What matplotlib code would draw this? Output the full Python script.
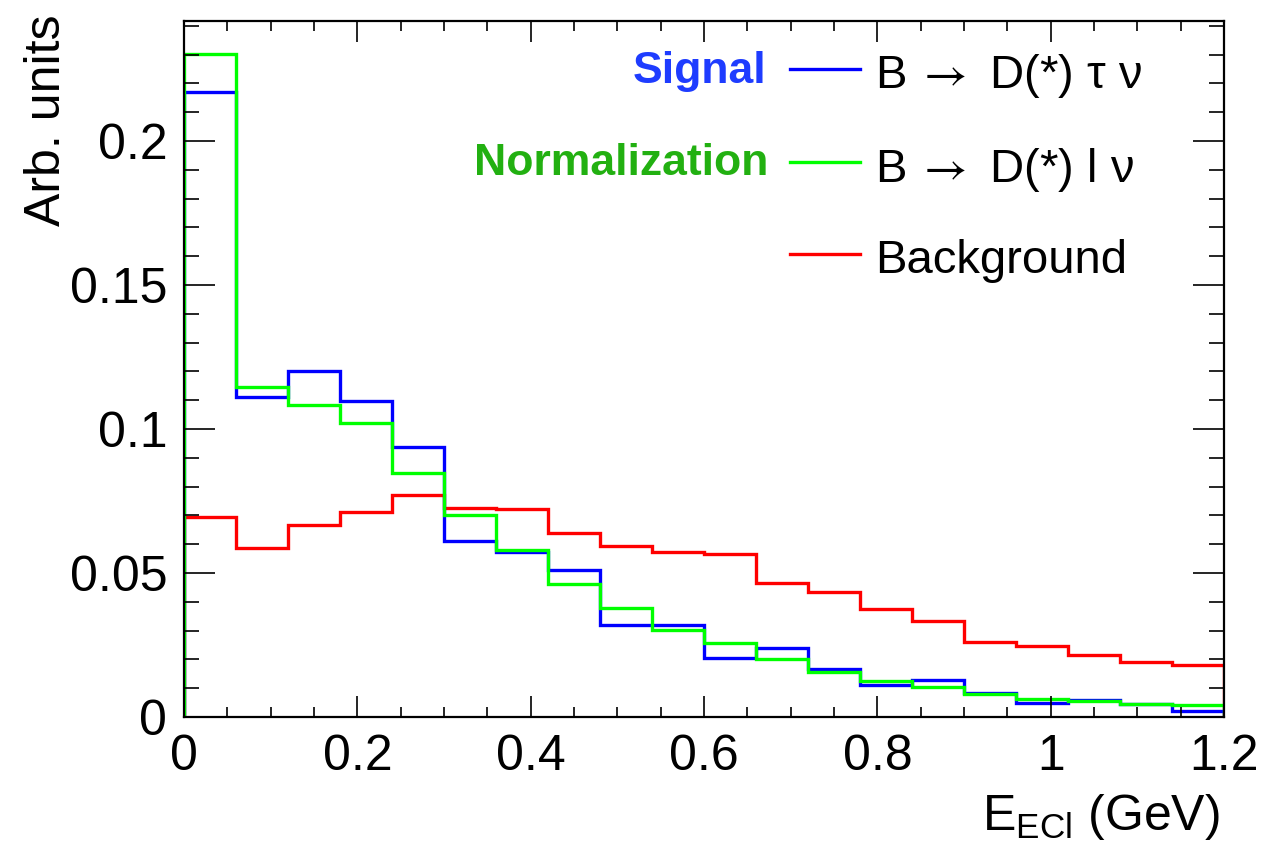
import numpy as np
import matplotlib
matplotlib.use("Agg")
import matplotlib.pyplot as plt

plt.rcParams['font.family'] = ['Liberation Sans', 'DejaVu Sans']
plt.rcParams['mathtext.fontset'] = 'custom'
plt.rcParams['mathtext.rm'] = 'STIXGeneral'
plt.rcParams['mathtext.sf'] = 'Liberation Sans'

# 直方图分箱 (20 bins, 0 - 1.2 GeV)
bin_edges = np.linspace(0.0, 1.2, 21)

signal = [0.217, 0.111, 0.120, 0.1096, 0.0938, 0.0611, 0.0573, 0.0512, 0.0319, 0.0321,
          0.0206, 0.0241, 0.0165, 0.0110, 0.0128, 0.0084, 0.0047, 0.0060, 0.0044, 0.0021]
normalization = [0.2302, 0.1146, 0.1085, 0.1020, 0.0846, 0.0700, 0.0579, 0.0462, 0.0380, 0.0302,
                 0.0258, 0.0200, 0.0157, 0.0125, 0.0104, 0.0079, 0.0064, 0.0056, 0.0046, 0.0041]
background = [0.0695, 0.0586, 0.0666, 0.0713, 0.0770, 0.0726, 0.0724, 0.0640, 0.0594, 0.0572,
              0.0565, 0.0464, 0.0433, 0.0375, 0.0335, 0.0261, 0.0245, 0.0216, 0.0190, 0.0179]

labels = ['B$\\,\\rightarrow$ D(*) \u03c4 \u03bd', 'B$\\,\\rightarrow$ D(*) l \u03bd', 'Background']
colors = ['#0000ff', '#00ff00', '#ff0000']

fig = plt.figure(figsize=(12.67, 8.44), dpi=100)
ax = fig.add_axes([184 / 1267, 1 - 717 / 844, 1040 / 1267, 696 / 844])

# 绘制顺序: 背景, 信号, 归一化
for vals, c in zip([background, signal, normalization], ['#ff0000', '#0000ff', '#00ff00']):
    ax.stairs(vals, bin_edges, color=c, lw=2.4)

ax.set_xlim(0, 1.2)
ax.set_ylim(0, 0.2417)
ax.set_xticks(np.arange(0, 1.21, 0.2))
ax.set_xticklabels(['0', '0.2', '0.4', '0.6', '0.8', '1', '1.2'])
ax.set_xticks(np.arange(0, 1.21, 0.05), minor=True)
ax.set_yticks([0, 0.05, 0.1, 0.15, 0.2])
ax.set_yticklabels(['0', '0.05', '0.1', '0.15', '0.2'])
ax.set_yticks(np.arange(0, 0.2417, 0.01), minor=True)

for s in ax.spines.values():
    s.set_linewidth(1.6)
ax.tick_params(which='both', direction='in', top=True, right=True, width=1.2, labelsize=36)
ax.tick_params(axis='x', which='major', length=15, pad=12)
ax.tick_params(axis='x', which='minor', length=7.5)
ax.tick_params(axis='y', which='major', length=22, pad=12)
ax.tick_params(axis='y', which='minor', length=11)

ax.set_ylabel('Arb. units', fontsize=36, ha='right', va='baseline', rotation_mode='anchor')
ax.yaxis.set_label_coords((60 - 184) / 1040, (717 - 15) / 696)
ax.set_xlabel(r'E$_{\mathsf{ECl}}$ (GeV)', fontsize=36, ha='right', va='baseline')
ax.xaxis.set_label_coords((1220 - 184) / 1040, (717 - 830) / 696)

# 图例 (手动放置)
rows_line = [69, 162, 254]
rows_base = [88, 182, 273]
for lab, c, yl, yb in zip(labels, colors, rows_line, rows_base):
    ya = (717 - yl) / 696
    ax.plot([(790 - 184) / 1040, (860 - 184) / 1040], [ya, ya], color=c, lw=2.4,
            transform=ax.transAxes, clip_on=False)
    ax.text((875 - 184) / 1040, (717 - yb) / 696, lab, fontsize=34, ha='left', va='baseline',
            transform=ax.transAxes)

ax.text((766 - 184) / 1040, (717 - 83) / 696, 'Signal', fontsize=32, fontweight='bold',
        color='#1e3cff', ha='right', va='baseline', transform=ax.transAxes)
ax.text((768 - 184) / 1040, (717 - 175) / 696, 'Normalization', fontsize=32, fontweight='bold',
        color='#22b011', ha='right', va='baseline', transform=ax.transAxes)

fig.savefig('out.png', dpi=100)
